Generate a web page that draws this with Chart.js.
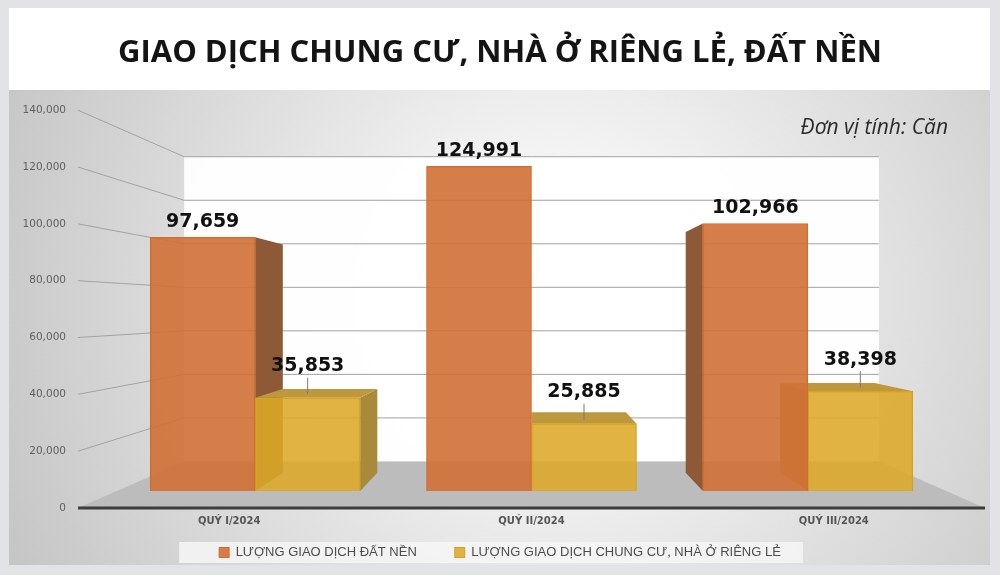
<!DOCTYPE html>
<html>
<head>
<meta charset="utf-8">
<script src="https://cdn.jsdelivr.net/npm/chart.js@4.4.0/dist/chart.umd.min.js"></script>
<style>
    html, body { margin: 0; padding: 0; background: #e1e3e6; }
    #wrap { width: 1000px; height: 575px; }
</style>
</head>
<body>
<div id="wrap"><canvas id="myChart"></canvas></div>
<script>
const chartTitle = "GIAO DỊCH CHUNG CƯ, NHÀ Ở RIÊNG LẺ, ĐẤT NỀN";
const unitNote = "Đơn vị tính: Căn";
const quarters = ["QUÝ I/2024", "QUÝ II/2024", "QUÝ III/2024"];
const seriesNames = ["LƯỢNG GIAO DỊCH ĐẤT NỀN", "LƯỢNG GIAO DỊCH CHUNG CƯ, NHÀ Ở RIÊNG LẺ"];
const landPlots = [97659, 124991, 102966];
const apartmentsHouses = [35853, 25885, 38398];
const yMax = 140000;
const yStep = 20000;

// fake 3D: back wall, plane of the bar fronts, depth of the bars
const wallDepth = 0.766;
const barPlane = 0.914;
const barDepth = 0.9;

let chart;

function fmt(v)
{
    return v.toLocaleString('en-US');
}

function vanishingPoint(c)
{
    const a = c.chartArea;
    return { x: (a.left + a.right) / 2, y: (a.top + a.bottom) / 2 };
}

const scenePlugin = {
    id: 'scene',
    beforeDraw(c)
    {
        const ctx = c.ctx;
        const a = c.chartArea;
        const y = c.scales.y;
        const vp = vanishingPoint(c);
        ctx.save();
        ctx.fillStyle = '#e1e3e6';
        ctx.fillRect(0, 0, c.width, c.height);
        ctx.fillStyle = '#ffffff';
        ctx.fillRect(9, 8, 981, 82);
        const g = ctx.createRadialGradient(560, 300, 30, 560, 300, 640);
        g.addColorStop(0, '#ffffff');
        g.addColorStop(1, '#c2c2c2');
        ctx.fillStyle = g;
        ctx.fillRect(9, 90, 981, 475);

        const wl = vp.x + (a.left - vp.x) * wallDepth;
        const wr = vp.x + (a.right - vp.x) * wallDepth;
        const back = py => vp.y + (py - vp.y) * wallDepth;
        const y0 = y.getPixelForValue(0);
        const yTop = y.getPixelForValue(yMax);

        // back wall
        ctx.fillStyle = 'rgba(255,255,255,0.95)';
        ctx.fillRect(wl, back(yTop), wr - wl, back(y0) - back(yTop));

        // legend band
        const hb = c.legend.legendHitBoxes;
        if (hb && hb.length)
        {
            const last = hb[hb.length - 1];
            const bx = hb[0].left - 40;
            ctx.fillStyle = 'rgba(246,246,246,0.85)';
            ctx.fillRect(bx, hb[0].top - 4, last.left + last.width + 22 - bx, hb[0].height + 8);
        }

        // floor
        ctx.fillStyle = '#bcbcbc';
        ctx.beginPath();
        ctx.moveTo(a.left, y0);
        ctx.lineTo(a.right, y0);
        ctx.lineTo(wr, back(y0));
        ctx.lineTo(wl, back(y0));
        ctx.closePath();
        ctx.fill();

        // grid lines bent onto the back wall
        ctx.strokeStyle = '#a3a3a3';
        ctx.lineWidth = 1;
        for (let v = yStep; v <= yMax; v += yStep)
        {
            const fy = y.getPixelForValue(v);
            ctx.beginPath();
            ctx.moveTo(a.left, fy);
            ctx.lineTo(wl, back(fy));
            ctx.lineTo(wr, back(fy));
            ctx.stroke();
        }

        ctx.strokeStyle = '#3d3d3d';
        ctx.lineWidth = 3;
        ctx.beginPath();
        ctx.moveTo(a.left, y0);
        ctx.lineTo(a.right, y0);
        ctx.stroke();
        ctx.restore();
    },
    beforeDatasetsDraw(c)
    {
        const ctx = c.ctx;
        const vp = vanishingPoint(c);
        const sideColors = ['#8e5936', '#a88a3a'];
        const topColors = ['#b5683a', '#be983e'];
        const bk = (x, y) => [vp.x + (x - vp.x) * barDepth, vp.y + (y - vp.y) * barDepth];
        ctx.save();
        c.data.datasets.forEach((ds, i) =>
        {
            c.getDatasetMeta(i).data.forEach(el =>
            {
                const x0 = el.x - el.width / 2;
                const x1 = el.x + el.width / 2;
                const yt = el.y;
                const yb = el.base;
                const poly = pts =>
                {
                    ctx.beginPath();
                    ctx.moveTo(pts[0][0], pts[0][1]);
                    pts.slice(1).forEach(p => ctx.lineTo(p[0], p[1]));
                    ctx.closePath();
                    ctx.fill();
                };
                ctx.fillStyle = sideColors[i];
                if (x1 < vp.x)
                {
                    poly([[x1, yt], bk(x1, yt), bk(x1, yb), [x1, yb]]);
                }
                if (x0 > vp.x)
                {
                    poly([[x0, yt], bk(x0, yt), bk(x0, yb), [x0, yb]]);
                }
                if (yt > vp.y)
                {
                    ctx.fillStyle = topColors[i];
                    poly([[x0, yt], [x1, yt], bk(x1, yt), bk(x0, yt)]);
                }
            });
        });
        ctx.restore();
    },
    afterDatasetsDraw(c)
    {
        const ctx = c.ctx;
        ctx.save();
        ctx.font = 'bold 19px "DejaVu Sans"';
        ctx.fillStyle = '#111111';
        ctx.textAlign = 'center';
        ctx.textBaseline = 'bottom';
        c.data.datasets.forEach((ds, i) =>
        {
            c.getDatasetMeta(i).data.forEach((el, j) =>
            {
                const text = fmt(ds.data[j].y);
                if (i === 0)
                {
                    ctx.fillText(text, el.x, el.y - 6);
                }
                else
                {
                    ctx.fillText(text, el.x, el.y - 22);
                    ctx.strokeStyle = '#777777';
                    ctx.lineWidth = 1;
                    ctx.beginPath();
                    ctx.moveTo(el.x, el.y - 20);
                    ctx.lineTo(el.x, el.y - 4);
                    ctx.stroke();
                }
            });
        });
        ctx.restore();
    },
    afterDraw(c)
    {
        const ctx = c.ctx;
        ctx.save();
        ctx.font = 'italic 21px "Open Sans"';
        ctx.fillStyle = '#2a2a2a';
        ctx.textAlign = 'right';
        ctx.textBaseline = 'alphabetic';
        ctx.fillText(unitNote, 948, 134);
        ctx.restore();
    }
};

function InitializeChart()
{
    const xSpan = 1.5 / barPlane;
    const ySpan = (yMax / 2) / barPlane;
    chart = new Chart(document.getElementById("myChart"), {
        type: 'bar',
        data: {
            labels: quarters,
            datasets: [
                {
                    label: seriesNames[0],
                    data: landPlots.map((v, i) => ({ x: i, y: v })),
                    backgroundColor: 'rgba(210,112,54,0.9)',
                    borderColor: '#d86a2c',
                    borderWidth: 1,
                    xAxisID: 'xb',
                    yAxisID: 'yb',
                    barThickness: 105
                },
                {
                    label: seriesNames[1],
                    data: apartmentsHouses.map((v, i) => ({ x: i, y: v })),
                    backgroundColor: 'rgba(220,168,40,0.88)',
                    borderColor: '#d3a21e',
                    borderWidth: 1,
                    xAxisID: 'xb',
                    yAxisID: 'yb',
                    barThickness: 105
                }
            ]
        },
        options: {
            responsive: true,
            maintainAspectRatio: false,
            animation: false,
            events: [],
            layout: {
                padding: { left: 15, right: 15, top: 0, bottom: 6 }
            },
            plugins: {
                title: {
                    display: true,
                    text: chartTitle,
                    color: '#141414',
                    font: { family: 'Open Sans', size: 31, weight: 'bold' },
                    padding: { top: 35, bottom: 38 }
                },
                legend: {
                    position: 'bottom',
                    maxHeight: 42,
                    labels: {
                        color: '#4d4d4d',
                        font: { family: 'Liberation Sans', size: 13 },
                        boxWidth: 10,
                        boxHeight: 10,
                        padding: 12,
                        generateLabels: c =>
                        {
                            const items = Chart.defaults.plugins.legend.labels.generateLabels(c);
                            // widen the gap between the two entries
                            items[0].text += '\u2003\u2003';
                            return items;
                        }
                    }
                },
                tooltip: { enabled: false }
            },
            scales: {
                x: {
                    type: 'category',
                    grid: { display: false, drawTicks: false },
                    border: { display: false },
                    ticks: {
                        color: '#555555',
                        padding: 7,
                        font: { family: 'DejaVu Sans', size: 10, weight: 'bold' }
                    },
                    afterFit: s => { s.height = 26; }
                },
                y: {
                    type: 'linear',
                    min: 0,
                    max: yMax,
                    grid: { display: false },
                    border: { display: false },
                    ticks: {
                        stepSize: yStep,
                        padding: 4,
                        color: '#606060',
                        font: { family: 'DejaVu Sans', size: 10.5 },
                        callback: v => fmt(v)
                    },
                    afterFit: s => { s.width = 63; }
                },
                xb: {
                    type: 'linear',
                    axis: 'x',
                    display: false,
                    offset: false,
                    min: 1 - xSpan,
                    max: 1 + xSpan
                },
                yb: {
                    type: 'linear',
                    axis: 'y',
                    display: false,
                    min: yMax / 2 - ySpan,
                    max: yMax / 2 + ySpan
                }
            }
        },
        plugins: [scenePlugin]
    });
}

InitializeChart();
</script>
</body>
</html>
